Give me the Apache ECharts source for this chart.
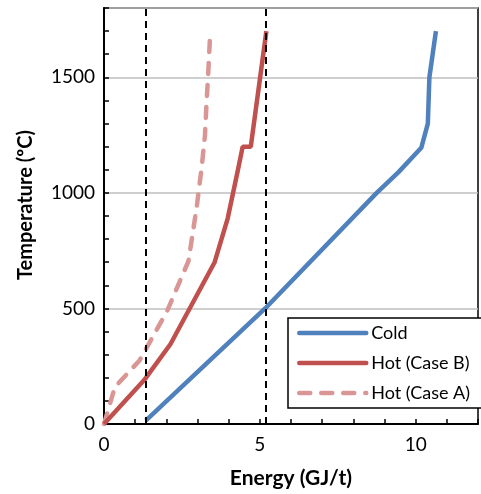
<!DOCTYPE html>
<html>
<head>
<meta charset="utf-8">
<script src="https://cdn.jsdelivr.net/npm/echarts@6/dist/echarts.min.js"></script>
<style>
  html, body { margin: 0; padding: 0; background: #fff; }
  #chart { width: 481px; height: 494px; }
</style>
</head>
<body>
<div id="chart"></div>
<script>
// energy (GJ/t) vs temperature (°C)
const coldEnergy = [1.34, 5.17, 8.75, 9.45, 10.18, 10.39, 10.44, 10.65];
const coldTemp   = [15, 500, 1000, 1090, 1195, 1300, 1500, 1700];

const hotBEnergy = [0, 1.29, 2.13, 3.55, 3.97, 4.29, 4.45, 4.71, 5.21];
const hotBTemp   = [0, 190, 345, 700, 890, 1095, 1200, 1200, 1700];

const hotAEnergy = [0, 0.35, 1.14, 2.03, 2.71, 2.97, 3.13, 3.24, 3.29, 3.34, 3.41];
const hotATemp   = [0, 160, 275, 490, 705, 935, 1105, 1250, 1390, 1505, 1700];

// vertical reference lines (GJ/t)
const refLines = [1.34, 5.18];

const xTicksLabelled = [0, 5, 10];

const pairs = (xs, ys) => xs.map((x, i) => [x, ys[i]]);

const FONT = 'Lato, "Open Sans", sans-serif';

const chart = echarts.init(document.getElementById('chart'), null, { renderer: 'canvas' });

const option = {
    animation: false,
    grid: {
        left: 104, top: 8, right: -3, bottom: 67,
        show: true, borderColor: '#000', borderWidth: 1.5
    },
    legend: {
        left: 288, top: 318,
        orient: 'vertical',
        data: ['Cold', 'Hot (Case B)', 'Hot (Case A)'],
        itemWidth: 67, itemHeight: 14, itemGap: 12,
        padding: [6, 13, 6, 9],
        borderColor: '#000', borderWidth: 1.5,
        backgroundColor: '#fff',
        itemStyle: { opacity: 0 },
        lineStyle: { width: 4.5, cap: 'round' },
        textStyle: { fontFamily: FONT, fontSize: 18, color: '#000' }
    },
    xAxis: {
        type: 'value', min: 0, max: 12, interval: 1,
        name: 'Energy (GJ/t)', nameLocation: 'middle', nameGap: 44,
        nameTextStyle: { fontFamily: FONT, fontSize: 21, fontWeight: 'bold', color: '#000' },
        axisLine: { lineStyle: { color: '#000', width: 2 } },
        axisTick: { inside: true, length: 5, lineStyle: { color: '#000', width: 1.5 } },
        axisLabel: {
            fontFamily: FONT, fontSize: 19, color: '#000', margin: 11,
            formatter: v => xTicksLabelled.includes(v) ? String(v) : ''
        },
        splitLine: { show: false }
    },
    yAxis: {
        type: 'value', min: 0, max: 1800, interval: 500,
        name: 'Temperature (ºC)', nameLocation: 'middle', nameGap: 68,
        nameTextStyle: {
            fontFamily: FONT, fontSize: 20, fontWeight: 'bold', color: '#000',
            padding: [0, 0, 0, 22]
        },
        axisLine: { lineStyle: { color: '#000', width: 2 } },
        axisTick: { inside: true, length: 5, lineStyle: { color: '#000', width: 1.5 } },
        minorTick: { show: true, splitNumber: 5, length: 5, lineStyle: { color: '#000', width: 1.5 } },
        axisLabel: {
            fontFamily: FONT, fontSize: 19, color: '#000', margin: 9,
            formatter: v => (v % 500 === 0 ? String(v) : '')
        },
        splitLine: { show: true, lineStyle: { color: '#bfbfbf', width: 1.5 } }
    },
    series: [
        {
            name: 'Cold', type: 'line', symbol: 'none',
            data: pairs(coldEnergy, coldTemp),
            lineStyle: { color: '#4f81bd', width: 4.5 },
            itemStyle: { color: '#4f81bd' },
            z: 3
        },
        {
            name: 'Hot (Case B)', type: 'line', symbol: 'none',
            data: pairs(hotBEnergy, hotBTemp),
            lineStyle: { color: '#c0504d', width: 4.5 },
            itemStyle: { color: '#c0504d' },
            z: 3
        },
        {
            name: 'Hot (Case A)', type: 'line', symbol: 'none',
            data: pairs(hotAEnergy, hotATemp),
            lineStyle: { color: '#d99694', width: 4.5, type: [11, 11], cap: 'round' },
            itemStyle: { color: '#d99694' },
            z: 2,
            markLine: {
                silent: true,
                symbol: ['none', 'none'],
                label: { show: false },
                lineStyle: { color: '#000', width: 2, type: [7, 5] },
                data: refLines.map(x => ({ xAxis: x }))
            }
        }
    ]
};

chart.setOption(option);
window.addEventListener('resize', () => chart.resize());
</script>
</body>
</html>
